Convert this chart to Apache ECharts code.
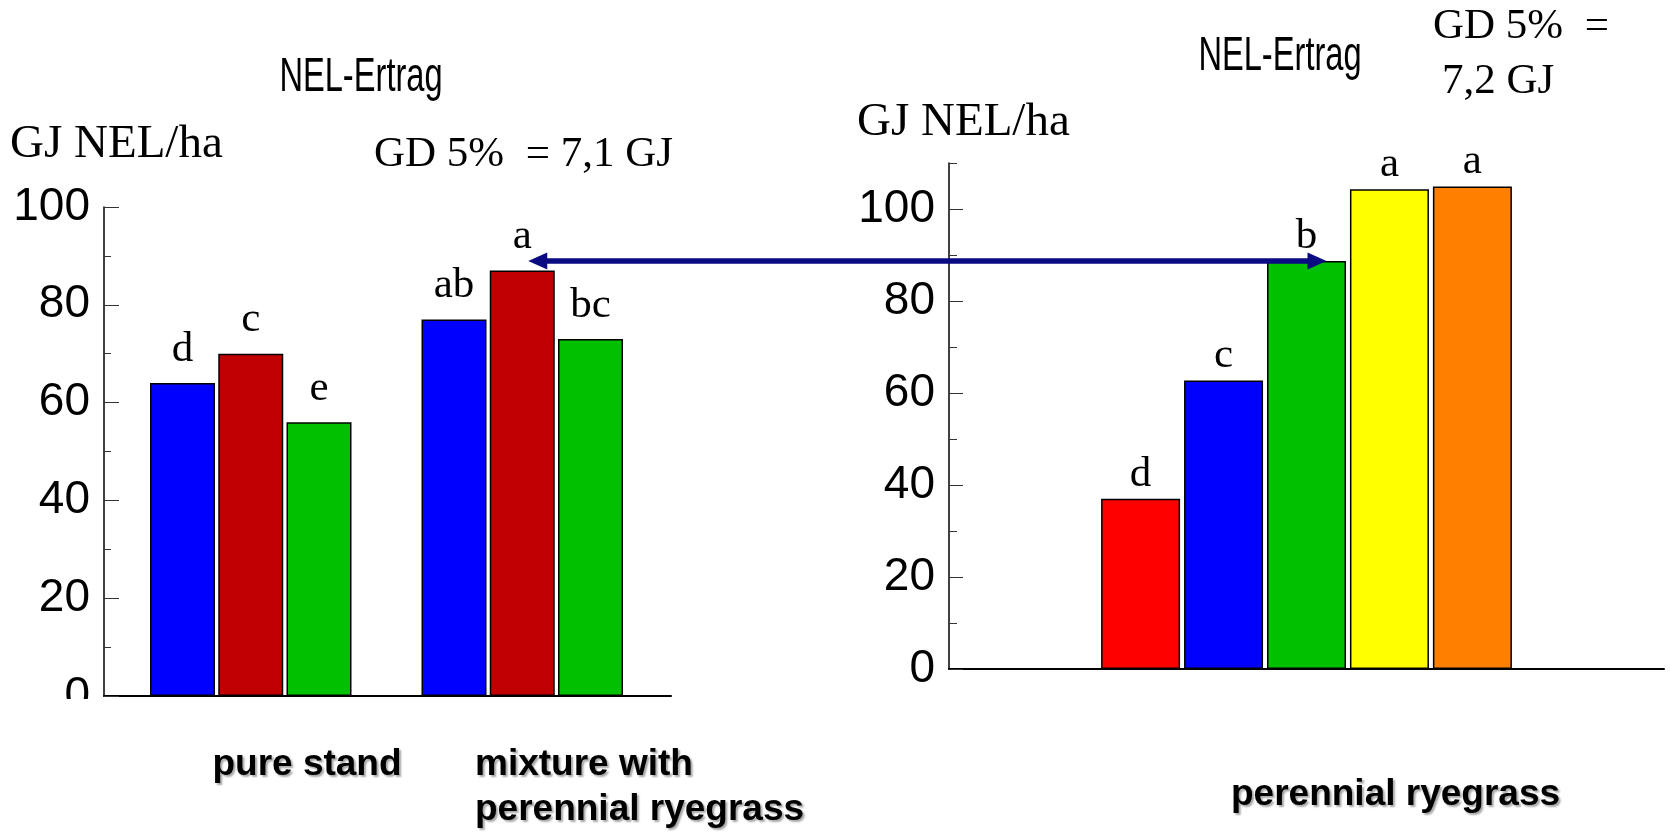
<!DOCTYPE html>
<html>
<head>
<meta charset="utf-8">
<title>NEL-Ertrag</title>
<script src="https://cdn.jsdelivr.net/npm/echarts@6/dist/echarts.min.js"></script>
<style>
  html, body { margin: 0; padding: 0; background: #ffffff; }
  #chart { width: 1670px; height: 836px; }
</style>
</head>
<body>
<div id="chart"></div>
<script>
// NEL yield (GJ NEL/ha): pure stands vs. mixtures, and perennial ryegrass
const leftCategories = ['pure stand', 'mixture with\nperennial ryegrass'];
const leftBlueValues = [64, 77];
const leftRedValues = [70, 87];
const leftGreenValues = [56, 73];
const leftBlueLetters = ['d', 'ab'];
const leftRedLetters = ['c', 'a'];
const leftGreenLetters = ['e', 'bc'];

const rightCategories = ['perennial ryegrass'];
const rightValues = [37, 62.7, 88.7, 104.3, 104.9];
const rightLetters = ['d', 'c', 'b', 'a', 'a'];

const leftTitle = 'NEL-Ertrag';
const rightTitle = 'NEL-Ertrag';
const unitLabel = 'GJ NEL/ha';
const leftLsd = 'GD 5%  = 7,1 GJ';
const rightLsdLines = ['GD 5%  =', '7,2 GJ'];

// styling
const leftColors = ['#0000ff', '#c00000', '#00c000'];
const rightColors = ['#ff0000', '#0000ff', '#00c000', '#ffff00', '#ff8000'];
const arrowColor = '#0a0a82';
const serif = '"Liberation Serif", "Times New Roman", serif';
const sans = '"Liberation Sans", Arial, sans-serif';

const tickLine = { color: '#333333', width: 1 };
const letterLabel = (letters, distance) => ({
  show: true,
  position: 'top',
  distance: distance,
  formatter: p => letters[p.dataIndex],
  fontFamily: serif,
  fontSize: 43,
  color: '#000000'
});

function leftBar(values, letters, color) {
  return {
    type: 'bar', xAxisIndex: 1, yAxisIndex: 1, data: values,
    barWidth: 65, barGap: '5%',
    itemStyle: { color: color, borderColor: '#000000', borderWidth: 1.5 },
    label: letterLabel(letters, 12)
  };
}

const rightSeries = rightValues.map((v, i) => ({
  type: 'bar', xAxisIndex: 2, yAxisIndex: 2, data: [v],
  barWidth: 79, barGap: '5%',
  itemStyle: { color: rightColors[i], borderColor: '#000000', borderWidth: 1.5 },
  label: letterLabel([rightLetters[i]], 3)
}));

const option = {
  animation: false,
  backgroundColor: '#ffffff',
  grid: [
    { left: 104, top: 207, right: 999, bottom: 140 },   // left frame (axes)
    { left: 115, top: 207, right: 1012, bottom: 140 },  // left bars
    { left: 949, top: 163, right: 6, bottom: 167 },     // right bars, axis to 110
    { left: 949, top: 209, right: 6, bottom: 167 }      // right major ticks 0-100
  ],
  xAxis: [
    { gridIndex: 0, type: 'category', data: [''],
      axisLine: { show: true, lineStyle: { color: '#000', width: 2 } },
      axisTick: { show: false }, axisLabel: { show: false } },
    { gridIndex: 1, type: 'category', data: leftCategories,
      axisLine: { show: false },
      axisTick: { show: true, inside: true, alignWithLabel: true, length: 12, lineStyle: tickLine },
      axisLabel: { show: false } },
    { gridIndex: 2, type: 'category', data: rightCategories,
      axisLine: { show: true, lineStyle: { color: '#000', width: 2 } },
      axisTick: { show: true, inside: true, alignWithLabel: true, length: 12, lineStyle: tickLine },
      axisLabel: { show: false } },
    { gridIndex: 3, type: 'category', data: rightCategories, show: false }
  ],
  yAxis: [
    { gridIndex: 0, type: 'value', min: 0, max: 100, interval: 20,
      axisLine: { show: true, lineStyle: { color: '#000', width: 1.5 } },
      axisTick: { show: true, inside: true, length: 15, lineStyle: tickLine },
      minorTick: { show: true, splitNumber: 2, length: 7, lineStyle: tickLine },
      splitLine: { show: false },
      axisLabel: { fontFamily: sans, fontSize: 46, color: '#000', margin: 14 } },
    { gridIndex: 1, type: 'value', min: 0, max: 100, show: false },
    { gridIndex: 2, type: 'value', min: 0, max: 110, interval: 10,
      axisLine: { show: true, lineStyle: { color: '#000', width: 1.5 } },
      axisTick: { show: true, inside: true, length: 8, lineStyle: tickLine },
      splitLine: { show: false },
      axisLabel: { show: false } },
    { gridIndex: 3, type: 'value', min: 0, max: 100, interval: 20,
      axisLine: { show: false },
      axisTick: { show: true, inside: true, length: 14, lineStyle: tickLine },
      splitLine: { show: false },
      axisLabel: { fontFamily: sans, fontSize: 46, color: '#000', margin: 14 } }
  ],
  series: [
    leftBar(leftBlueValues, leftBlueLetters, leftColors[0]),
    leftBar(leftRedValues, leftRedLetters, leftColors[1]),
    leftBar(leftGreenValues, leftGreenLetters, leftColors[2])
  ].concat(rightSeries)
};

const chart = echarts.init(document.getElementById('chart'), null, { renderer: 'canvas' });
chart.setOption(option);

// positions derived from the axes
const arrowY = chart.convertToPixel({ yAxisIndex: 2 }, rightValues[2]);
const arrowLeftX = chart.convertToPixel({ xAxisIndex: 1 }, 1) + 6;
const arrowRightX = chart.convertToPixel({ xAxisIndex: 2 }, 0) + 20;
const leftZeroY = chart.convertToPixel({ yAxisIndex: 0 }, 0);

const shadowText = {
  fill: '#000000',
  textShadowColor: 'rgba(0,0,0,0.35)',
  textShadowBlur: 2,
  textShadowOffsetX: 2,
  textShadowOffsetY: 2
};

function text(x, y, str, font, align, extra) {
  return {
    type: 'text', x: x, y: y, z: 50,
    style: Object.assign({ text: str, font: font, fill: '#000000', align: align, verticalAlign: 'middle' }, extra || {})
  };
}

const graphics = [
  // the left axis' zero label is cut off just below the axis
  { type: 'rect', z: 60, shape: { x: 0, y: leftZeroY + 3, width: 100, height: 40 },
    style: { fill: '#ffffff' } },

  Object.assign(text(361, 78, leftTitle, '48px ' + sans, 'center'), { scaleX: 0.68 }),
  Object.assign(text(1280, 57, rightTitle, '48px ' + sans, 'center'), { scaleX: 0.68 }),
  text(10, 145, unitLabel, '47px ' + serif, 'left'),
  text(857, 123, unitLabel, '47px ' + serif, 'left'),
  text(374, 155, leftLsd, '43px ' + serif, 'left'),
  text(1433, 27, rightLsdLines[0], '43px ' + serif, 'left'),
  text(1442, 82, rightLsdLines[1], '43px ' + serif, 'left'),

  text(307, 765, leftCategories[0], 'bold 37px ' + sans, 'center', shadowText),
  text(475, 787, leftCategories[1], 'bold 37px ' + sans, 'left', Object.assign({ lineHeight: 45 }, shadowText)),
  text(1231, 795, rightCategories[0], 'bold 37px ' + sans, 'left', shadowText),

  // double arrow linking the mixture level to the ryegrass level
  { type: 'line', z: 70,
    shape: { x1: arrowLeftX + 16, y1: arrowY, x2: arrowRightX - 16, y2: arrowY },
    style: { stroke: arrowColor, lineWidth: 5.5 } },
  { type: 'polygon', z: 70,
    shape: { points: [[arrowLeftX, arrowY], [arrowLeftX + 19, arrowY - 8.5], [arrowLeftX + 19, arrowY + 8.5]] },
    style: { fill: arrowColor } },
  { type: 'polygon', z: 70,
    shape: { points: [[arrowRightX, arrowY], [arrowRightX - 19, arrowY - 8.5], [arrowRightX - 19, arrowY + 8.5]] },
    style: { fill: arrowColor } }
];

chart.setOption({ graphic: graphics });
</script>
</body>
</html>
